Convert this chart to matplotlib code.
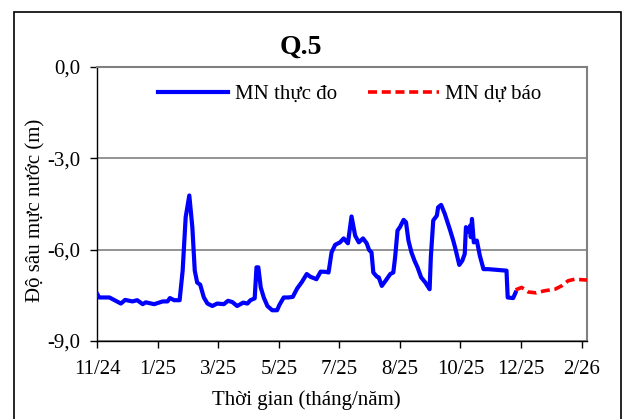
import matplotlib
matplotlib.use('Agg')
import matplotlib.pyplot as plt
from matplotlib.patches import Rectangle
from matplotlib.ticker import FuncFormatter

plt.rcParams['font.family'] = ['Liberation Serif', 'DejaVu Serif']

# x in tick units (0 = 11/24, 1 = 1/25, ... 8 = 2/26)
tick_labels = ['11/24', '1/25', '3/25', '5/25', '7/25', '8/25', '10/25', '12/25', '2/26']
y_ticks = [0, -3, -6, -9]

obs_x = [0.00, 0.03, 0.20, 0.39, 0.46, 0.58, 0.66, 0.75, 0.80, 0.94, 1.08, 1.16, 1.20,
         1.27, 1.36, 1.41, 1.46, 1.52, 1.57, 1.61, 1.65, 1.70, 1.76, 1.82, 1.90, 1.98,
         2.09, 2.16, 2.23, 2.31, 2.41, 2.48, 2.53, 2.60, 2.63, 2.66, 2.70, 2.75, 2.81,
         2.89, 2.97, 3.01, 3.08, 3.16, 3.23, 3.30, 3.38, 3.46, 3.52, 3.62, 3.69, 3.78,
         3.82, 3.87, 3.93, 4.01, 4.07, 4.14, 4.20, 4.26, 4.32, 4.39, 4.45, 4.49, 4.53,
         4.56, 4.62, 4.65, 4.70, 4.77, 4.84, 4.89, 4.92, 4.96, 5.00, 5.06, 5.10, 5.14,
         5.19, 5.24, 5.29, 5.35, 5.42, 5.49, 5.51, 5.55, 5.61, 5.63, 5.68, 5.74, 5.83,
         5.88, 5.91, 5.98, 6.03, 6.07, 6.09, 6.13, 6.16, 6.17, 6.19, 6.22, 6.27, 6.32,
         6.38, 6.46, 6.76, 6.78, 6.87, 6.91]
obs_y = [-7.46, -7.57, -7.57, -7.77, -7.65, -7.70, -7.66, -7.79, -7.73, -7.79, -7.70, -7.70, -7.59,
         -7.66, -7.66, -6.69, -4.93, -4.22, -5.26, -6.69, -7.08, -7.15, -7.57, -7.77, -7.85, -7.77,
         -7.79, -7.68, -7.72, -7.85, -7.74, -7.77, -7.66, -7.60, -6.58, -6.58, -7.24, -7.57, -7.85,
         -7.99, -7.99, -7.81, -7.57, -7.57, -7.55, -7.28, -7.06, -6.80, -6.89, -6.97, -6.72, -6.73,
         -6.75, -6.09, -5.84, -5.76, -5.63, -5.79, -4.91, -5.54, -5.76, -5.63, -5.79, -6.01, -6.09,
         -6.75, -6.89, -6.91, -7.19, -7.00, -6.80, -6.75, -6.25, -5.37, -5.26, -5.02, -5.10, -5.70,
         -6.09, -6.36, -6.58, -6.91, -7.08, -7.30, -6.25, -5.04, -4.88, -4.61, -4.53, -4.82, -5.37,
         -5.70, -5.92, -6.50, -6.36, -6.14, -5.26, -5.40, -5.21, -5.59, -4.99, -5.76, -5.70, -6.20,
         -6.64, -6.64, -6.69, -7.57, -7.59, -7.41]

fc_x = [6.91, 7.01, 7.12, 7.25, 7.39, 7.56, 7.67, 7.78, 7.89, 8.09]
fc_y = [-7.32, -7.24, -7.39, -7.42, -7.35, -7.30, -7.19, -7.02, -6.97, -7.00]

fig = plt.figure(figsize=(6.25, 4.19), dpi=100)
fig.patches.append(Rectangle((14 / 625, -0.01), 607 / 625, 1 - 12 / 419 + 0.01,
                             transform=fig.transFigure, fill=False,
                             edgecolor='black', linewidth=1.2))

ax = fig.add_axes([97.3 / 625, 1 - 341 / 419, (587 - 97.3) / 625, (341 - 67) / 419])

ax.plot(obs_x, obs_y, color='#0000ff', lw=3.0, solid_joinstyle='round',
        label='MN thực đo', zorder=3)
ax.plot(fc_x, fc_y, color='#ff0000', lw=2.6, dashes=(2.5, 1.3),
        label='MN dự báo', zorder=3)

ax.set_xlim(0, 8.09)
ax.set_ylim(-9, 0)
ax.set_xticks(range(len(tick_labels)))
ax.set_xticklabels(tick_labels)
ax.set_yticks(y_ticks)
ax.yaxis.set_major_formatter(FuncFormatter(lambda v, p: f'{v:.1f}'.replace('.', ',')))

ax.yaxis.grid(True, color='#808080', lw=1.2)
ax.set_axisbelow(True)
for s in ['top', 'right']:
    ax.spines[s].set_color('#808080')
    ax.spines[s].set_linewidth(1.5)
for s in ['left', 'bottom']:
    ax.spines[s].set_color('black')
    ax.spines[s].set_linewidth(1.0)

ax.tick_params(axis='both', direction='out', length=5, width=1, labelsize=15, colors='black')
ax.tick_params(axis='y', pad=7)
ax.tick_params(axis='x', pad=9)

ax.legend(loc='center', bbox_to_anchor=(0.515, 0.90), ncol=2, frameon=False,
          fontsize=15, handlelength=3.4, columnspacing=1.5, handletextpad=0.3)

fig.text(301 / 625, 1 - 47 / 419, 'Q.5', ha='center', va='center',
         fontsize=20, fontweight='bold')
fig.text(306 / 625, 1 - 400 / 419, 'Thời gian (tháng/năm)', ha='center', va='center',
         fontsize=15)
fig.text(36 / 625, 1 - 210 / 419, 'Độ sâu mực nước (m)', ha='center', va='center',
         rotation=90, fontsize=15)

fig.savefig('out.png', dpi=100)
